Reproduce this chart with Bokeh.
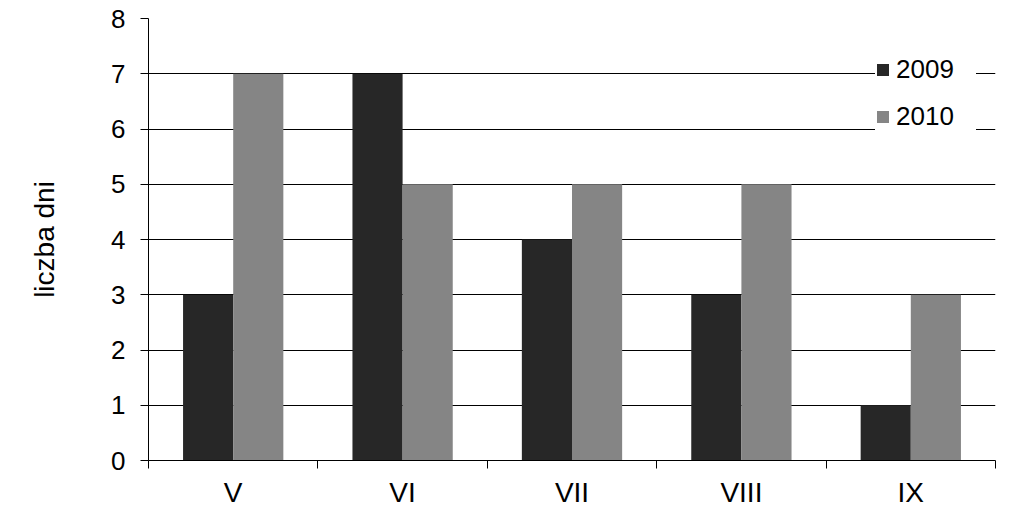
from bokeh.plotting import figure
from bokeh.models import ColumnDataSource, Range1d, FixedTicker, Legend, LegendItem
from bokeh.transform import dodge
from bokeh.embed import file_html
from bokeh.resources import INLINE

months = ["V", "VI", "VII", "VIII", "IX"]
days_2009 = [3, 7, 4, 3, 1]
days_2010 = [7, 5, 5, 5, 3]
series_names = ["2009", "2010"]
y_ticks = [0, 1, 2, 3, 4, 5, 6, 7, 8]

FONT = "Liberation Sans"
DARK = "#272727"
GRAY = "#858585"

pos = [i + 0.5 for i in range(len(months))]
src = ColumnDataSource(dict(x=pos, m=months, a=days_2009, b=days_2010))

p = figure(frame_width=847, frame_height=442, output_backend="svg", toolbar_location=None,
           x_range=Range1d(0, len(months)), y_range=Range1d(0, 8),
           min_border_left=148, min_border_right=21, min_border_top=18, min_border_bottom=10)
p.outline_line_color = None
p.background_fill_color = "white"
p.border_fill_color = "white"

bw = 0.296
r1 = p.vbar(x=dodge("x", -bw / 2, range=p.x_range), top="a", width=bw, source=src,
            fill_color=DARK, line_color=None)
r2 = p.vbar(x=dodge("x", bw / 2, range=p.x_range), top="b", width=bw, source=src,
            fill_color=GRAY, line_color=None)

# x axis: labels at category centers, ticks at category boundaries
xa = p.xaxis[0]
xa.ticker = FixedTicker(ticks=pos, minor_ticks=list(range(len(months) + 1)))
xa.major_label_overrides = {p_: m for p_, m in zip(pos, months)}
xa.major_tick_line_color = None
xa.major_tick_out = 0
xa.major_tick_in = 0
xa.minor_tick_line_color = "black"
xa.minor_tick_out = 8
xa.minor_tick_in = 0
xa.axis_line_color = "black"
xa.major_label_text_font = FONT
xa.major_label_text_font_size = "28px"
xa.major_label_text_color = "black"
xa.major_label_standoff = 8

ya = p.yaxis[0]
ya.ticker = FixedTicker(ticks=y_ticks)
ya.minor_tick_line_color = None
ya.major_tick_line_color = "black"
ya.major_tick_out = 8
ya.major_tick_in = 0
ya.axis_line_color = "black"
ya.major_label_text_font = FONT
ya.major_label_text_font_size = "26px"
ya.major_label_text_color = "black"
ya.major_label_standoff = 15
ya.axis_label = "liczba dni"
ya.axis_label_text_font = FONT
ya.axis_label_text_font_size = "28px"
ya.axis_label_text_font_style = "normal"
ya.axis_label_text_color = "black"
ya.axis_label_standoff = 48

p.xgrid.grid_line_color = None
p.ygrid.grid_line_color = "black"
p.ygrid.grid_line_width = 1
p.ygrid.ticker = FixedTicker(ticks=y_ticks)

legend = Legend(items=[LegendItem(label=series_names[0], renderers=[r1]),
                       LegendItem(label=series_names[1], renderers=[r2])],
                location=(727, 328), orientation="vertical",
                background_fill_color="white", background_fill_alpha=1.0,
                border_line_color=None, padding=12, spacing=16, margin=0,
                glyph_width=15, glyph_height=15, label_height=26, label_width=80,
                label_standoff=6, label_text_font=FONT, label_text_font_size="26px",
                label_text_color="black")
p.add_layout(legend)

open("out.html", "w").write(file_html(p, INLINE))
